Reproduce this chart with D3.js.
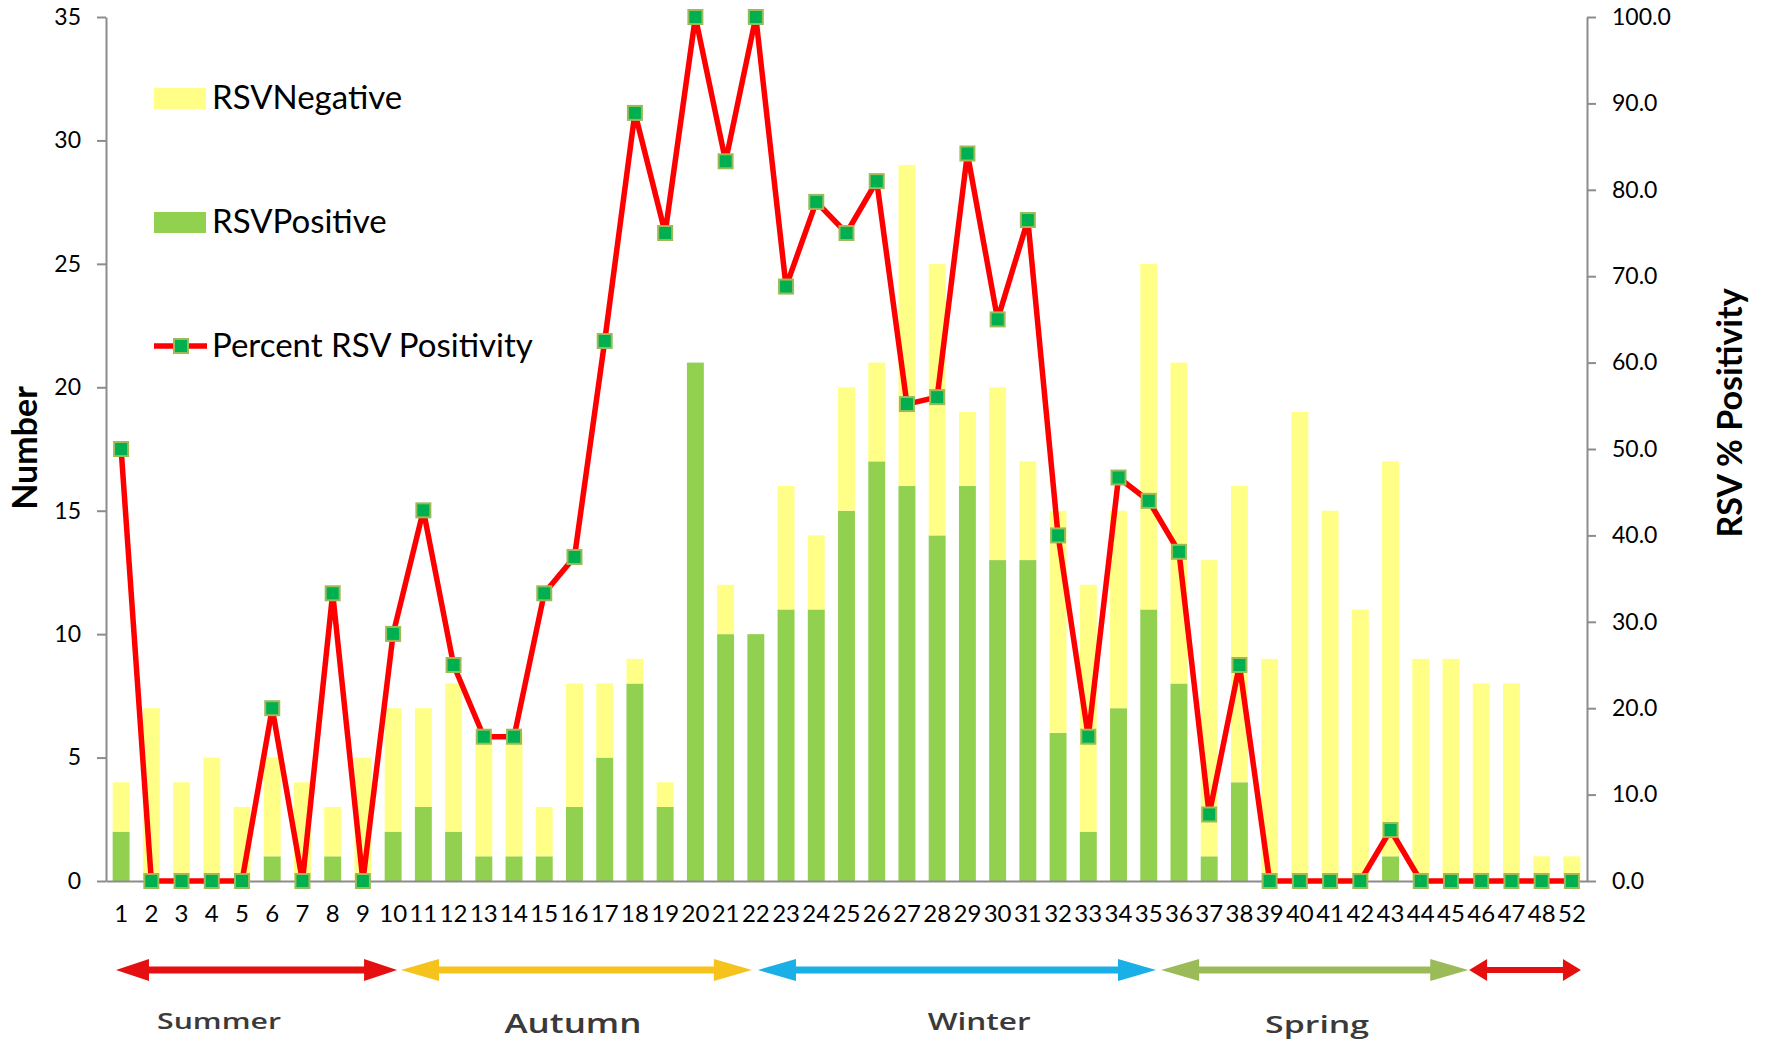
<!DOCTYPE html>
<html>
<head>
<meta charset="utf-8">
<script src="https://cdn.jsdelivr.net/npm/d3@7"></script>
<style>
  body { margin: 0; background: #fff; }
  text { font-family: Lato, "Open Sans", sans-serif; fill: #000; }
  .axis path, .axis line { stroke: #8c8c8c; stroke-width: 2; }
  .season { font-family: "Open Sans", sans-serif; font-weight: 600; fill: #3a3a3a; }
</style>
</head>
<body>
<div id="chart"></div>
<script>
// week labels (note the jump 48 -> 52)
const weeks = ["1","2","3","4","5","6","7","8","9","10","11","12","13","14","15","16","17","18","19","20",
  "21","22","23","24","25","26","27","28","29","30","31","32","33","34","35","36","37","38","39","40",
  "41","42","43","44","45","46","47","48","52"];

const rsvPositive = [2,0,0,0,0,1,0,1,0,2,3,2,1,1,1,3,5,8,3,21,
  10,10,11,11,15,17,16,14,16,13,13,6,2,7,11,8,1,4,0,0,
  0,0,1,0,0,0,0,0,0];

const rsvNegative = [2,7,4,5,3,4,4,2,5,5,4,6,5,5,2,5,3,1,1,0,
  2,0,5,3,5,4,13,11,3,7,4,9,10,8,14,13,12,12,9,19,
  15,11,16,9,9,8,8,1,1];

const percentPositivity = [50.0,0,0,0,0,20.0,0,33.3,0,28.6,42.9,25.0,16.7,16.7,33.3,37.5,62.5,88.9,75.0,100,
  83.3,100,68.8,78.6,75.0,81.0,55.2,56.0,84.2,65.0,76.5,40.0,16.7,46.7,44.0,38.1,7.7,25.0,0,0,
  0,0,5.9,0,0,0,0,0,0];

const countTicks = [0,5,10,15,20,25,30,35];
const percentTicks = [0,10,20,30,40,50,60,70,80,90,100];

// seasons, in week-index units (0 = first week)
const seasonNames = ["Summer","Autumn","Winter","Spring",""];
const seasonFrom = [-0.17, 9.26, 21.07, 34.41, 44.6];
const seasonTo = [9.13, 20.87, 34.24, 44.57, 48.3];
const seasonLabelAt = [3.24, 14.95, 28.39, 39.57, null];
const seasonColors = ["#e60f10","#f6c21c","#1aafe6","#9bbb59","#e60f10"];

const W = 1773, H = 1042;
const svg = d3.select("#chart").append("svg").attr("width", W).attr("height", H);

const x = d3.scaleBand().domain(weeks).range([106, 1587]).paddingInner(0.44).paddingOuter(0.22);
const y = d3.scaleLinear().domain([0, 35]).range([881, 17]);
const yPct = d3.scaleLinear().domain([0, 100]).range([881, 17]);
const bw = x.bandwidth();
const xIdx = d3.scaleLinear().domain([0, weeks.length - 1])
  .range([x(weeks[0]) + bw / 2, x(weeks[weeks.length - 1]) + bw / 2]);

// stacked bars
const rows = weeks.map((w, i) => ({ week: w, pos: rsvPositive[i], neg: rsvNegative[i] }));
const stack = d3.stack().keys(["pos", "neg"])(rows);
const barColor = { pos: "#92d050", neg: "#ffff88" };

svg.append("g").selectAll("g")
  .data(stack)
  .join("g")
  .attr("fill", d => barColor[d.key])
  .selectAll("rect")
  .data(d => d)
  .join("rect")
  .attr("x", d => x(d.data.week))
  .attr("width", bw)
  .attr("y", d => y(d[1]))
  .attr("height", d => y(d[0]) - y(d[1]));

// axes
const xAxis = svg.append("g").attr("class", "axis")
  .attr("transform", "translate(0,881)")
  .call(d3.axisBottom(x).tickSizeInner(0).tickSizeOuter(0).tickPadding(24));
xAxis.selectAll("text").style("font-size", "24px");

const yAxis = svg.append("g").attr("class", "axis")
  .attr("transform", "translate(106,0)")
  .call(d3.axisLeft(y).tickValues(countTicks).tickSize(9).tickSizeOuter(0).tickPadding(16));
yAxis.selectAll("text").style("font-size", "23px");

const yAxisR = svg.append("g").attr("class", "axis")
  .attr("transform", "translate(1587,0)")
  .call(d3.axisRight(yPct).tickValues(percentTicks).tickFormat(d3.format(".1f"))
    .tickSize(9).tickSizeOuter(0).tickPadding(16));
yAxisR.selectAll("text").style("font-size", "23px");

// line + markers
const line = d3.line()
  .x((d, i) => x(weeks[i]) + bw / 2)
  .y(d => yPct(d));

svg.append("path")
  .datum(percentPositivity)
  .attr("fill", "none")
  .attr("stroke", "#ff0000")
  .attr("stroke-width", 5.5)
  .attr("stroke-linejoin", "round")
  .attr("d", line);

const ms = 14;
svg.append("g").selectAll("rect")
  .data(percentPositivity)
  .join("rect")
  .attr("x", (d, i) => x(weeks[i]) + bw / 2 - ms / 2)
  .attr("y", d => yPct(d) - ms / 2)
  .attr("width", ms)
  .attr("height", ms)
  .attr("fill", "#00b050")
  .attr("stroke", "#9bbb59")
  .attr("stroke-width", 2);

// axis titles
svg.append("text")
  .attr("transform", "translate(37,448) rotate(-90)")
  .attr("text-anchor", "middle")
  .style("font-size", "34px").style("font-weight", "bold")
  .text("Number");

svg.append("text")
  .attr("transform", "translate(1742,413) rotate(-90)")
  .attr("text-anchor", "middle")
  .style("font-size", "34px").style("font-weight", "bold")
  .text("RSV % Positivity");

// legend
const legend = svg.append("g");
legend.append("rect").attr("x", 154).attr("y", 88).attr("width", 52).attr("height", 21).attr("fill", barColor.neg);
legend.append("text").attr("x", 212).attr("y", 109).style("font-size", "33px").text("RSVNegative");
legend.append("rect").attr("x", 154).attr("y", 212).attr("width", 52).attr("height", 21).attr("fill", barColor.pos);
legend.append("text").attr("x", 212).attr("y", 233).style("font-size", "33px").text("RSVPositive");
legend.append("line").attr("x1", 154).attr("x2", 207).attr("y1", 346).attr("y2", 346)
  .attr("stroke", "#ff0000").attr("stroke-width", 5.5);
legend.append("rect").attr("x", 181 - ms / 2).attr("y", 346 - ms / 2).attr("width", ms).attr("height", ms)
  .attr("fill", "#00b050").attr("stroke", "#9bbb59").attr("stroke-width", 2);
legend.append("text").attr("x", 212).attr("y", 357).style("font-size", "33px").text("Percent RSV Positivity");

// season arrows
const cy = 970;
function arrowPath(x0, x1, hl, hh, sw) {
  const p = d3.path();
  p.moveTo(x0, cy);
  p.lineTo(x0 + hl, cy - hh / 2);
  p.lineTo(x0 + hl, cy - sw / 2);
  p.lineTo(x1 - hl, cy - sw / 2);
  p.lineTo(x1 - hl, cy - hh / 2);
  p.lineTo(x1, cy);
  p.lineTo(x1 - hl, cy + hh / 2);
  p.lineTo(x1 - hl, cy + sw / 2);
  p.lineTo(x0 + hl, cy + sw / 2);
  p.lineTo(x0 + hl, cy + hh / 2);
  p.closePath();
  return p.toString();
}
const headLen = [33, 38, 38, 38, 18];

svg.append("g").selectAll("path")
  .data(seasonNames)
  .join("path")
  .attr("d", (d, i) => arrowPath(xIdx(seasonFrom[i]), xIdx(seasonTo[i]), headLen[i], 22, i === 4 ? 6 : 7))
  .attr("fill", (d, i) => seasonColors[i]);

const labelStyle = {
  Summer: { size: 22, len: 124, base: 1029 },
  Autumn: { size: 27, len: 137, base: 1033 },
  Winter: { size: 24, len: 103, base: 1030 },
  Spring: { size: 24, len: 104, base: 1033 }
};
svg.append("g").selectAll("text")
  .data(seasonNames.filter(n => n))
  .join("text")
  .attr("class", "season")
  .attr("x", (d, i) => xIdx(seasonLabelAt[i]))
  .attr("y", d => labelStyle[d].base)
  .attr("text-anchor", "middle")
  .attr("textLength", d => labelStyle[d].len)
  .attr("lengthAdjust", "spacingAndGlyphs")
  .style("font-size", d => labelStyle[d].size + "px")
  .text(d => d);
</script>
</body>
</html>
